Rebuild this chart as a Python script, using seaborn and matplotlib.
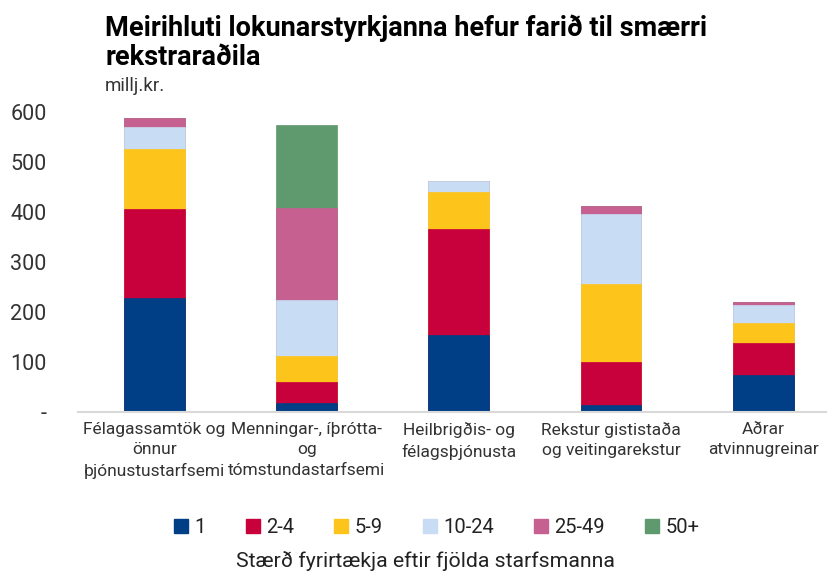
import numpy as np
import pandas as pd
import matplotlib
matplotlib.use('Agg')
import matplotlib.pyplot as plt
import seaborn as sns
from matplotlib.patches import Patch


categories = ['Félagassamtök og\nönnur\nþjónustustarfsemi',
              'Menningar-, íþrótta-\nog\ntómstundastarfsemi',
              'Heilbrigðis- og\nfélagsþjónusta',
              'Rekstur gististaða\nog veitingarekstur',
              'Aðrar\natvinnugreinar']
size_groups = ['1', '2-4', '5-9', '10-24', '25-49', '50+']
s_1 = [229, 18, 155, 14, 74]
s_2_4 = [177, 43, 212, 86, 65]
s_5_9 = [119, 51, 74, 157, 39]
s_10_24 = [44, 112, 21, 139, 37]
s_25_49 = [19, 185, 0, 16, 5]
s_50 = [0, 165, 0, 0, 0]
colors = ['#003e85', '#c8003c', '#fdc41c', '#c8ddf3', '#c56090', '#5e9a6e']
y_ticks = [0, 100, 200, 300, 400, 500, 600]
y_tick_labels = ['-', '100', '200', '300', '400', '500', '600']


def main():
    sns.set_theme(style='white')
    plt.rcParams['font.family'] = ['Roboto', 'DejaVu Sans']

    data = pd.DataFrame([s_1, s_2_4, s_5_9, s_10_24, s_25_49, s_50],
                        index=size_groups, columns=categories).T
    cum = data.cumsum(axis=1)

    fig = plt.figure(figsize=(8.27, 5.72), dpi=100)
    ax = fig.add_axes([0.0949, 0.2797, 0.9051, 0.5245])

    # stacked bars: draw cumulative totals from the top layer down
    for i in range(len(size_groups) - 1, -1, -1):
        sns.barplot(x=list(range(len(categories))), y=cum.iloc[:, i].values,
                    color=colors[i], width=0.4, saturation=1, ax=ax,
                    edgecolor=colors[i], linewidth=0.5)

    ax.set_xlim(-0.5, 4.42)
    ax.set_ylim(0, 600)
    ax.set_yticks(y_ticks)
    ax.set_yticklabels(y_tick_labels)
    ax.set_xticks(range(len(categories)))
    ax.set_xticklabels(categories, fontsize=12.5, color='#333333', linespacing=1.45)
    ax.tick_params(axis='y', length=0, pad=23, labelsize=15.5, labelcolor='#333333')
    ax.tick_params(axis='x', length=0, pad=7)
    for side in ['left', 'right', 'top']:
        ax.spines[side].set_visible(False)
    ax.spines['bottom'].set_color('#d9d9d9')
    ax.spines['bottom'].set_linewidth(1.5)
    ax.set_xlabel('')
    ax.set_ylabel('')

    handles = [Patch(facecolor=c, edgecolor=c) for c in colors]
    fig.legend(handles, size_groups, loc='center', bbox_to_anchor=(0.528, 0.078),
               ncol=6, frameon=False, fontsize=14.5, handlelength=0.7,
               handleheight=0.7, handletextpad=0.3, columnspacing=2.0,
               labelcolor='#222222')
    fig.text(0.515, 0.02, 'Stærð fyrirtækja eftir fjölda starfsmanna',
             ha='center', va='center', fontsize=15.3, color='#222222')

    fig.text(0.127, 0.926, 'Meirihluti lokunarstyrkjanna hefur farið til smærri\nrekstraraðila',
             ha='left', va='center', fontsize=19.5, fontweight='bold', color='#000000',
             linespacing=1.1)
    fig.text(0.127, 0.85, 'millj.kr.', ha='left', va='center', fontsize=13.5,
             color='#333333')

    fig.savefig('out.png', dpi=100)
    return 0


if __name__ == '__main__':
    main()
